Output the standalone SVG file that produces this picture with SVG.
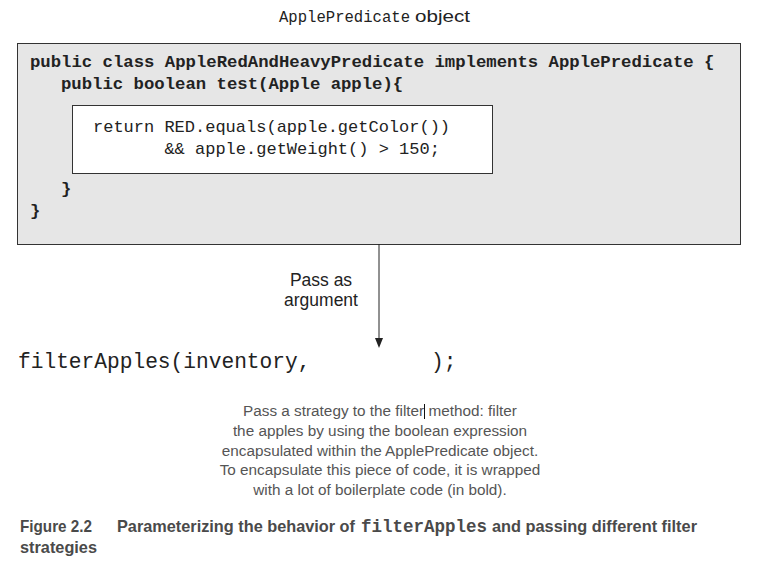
<svg xmlns="http://www.w3.org/2000/svg" width="776" height="561" viewBox="0 0 776 561">
<defs>
<style>
.mono{font-family:"Liberation Mono","Courier New",monospace;fill:#222;white-space:pre}
.bold{font-weight:bold}
.sans{font-family:"Liberation Sans",Arial,sans-serif}
.desc{font-family:"Liberation Sans",Arial,sans-serif;font-size:15.3px;fill:#555;text-anchor:middle}
.cap{font-family:"Liberation Sans",Arial,sans-serif;font-size:16.5px;font-weight:bold;fill:#4a4a4a}
</style>
</defs>
<rect width="776" height="561" fill="#fff"/>
<g id="title">
<text x="279" y="22" class="mono" style="font-size:15.6px">ApplePredicate</text>
<text x="415" y="22" class="sans" style="font-size:17px;fill:#222" textLength="55" lengthAdjust="spacingAndGlyphs">object</text>
</g>
<g id="predicate-object">
<rect x="17.5" y="43.5" width="723" height="201" fill="#e6e6e6" stroke="#333" stroke-width="1"/>
<text x="30" y="67" class="mono bold" style="font-size:17.3px">public class AppleRedAndHeavyPredicate implements ApplePredicate {</text>
<text x="61" y="89" class="mono bold" style="font-size:17.3px">public boolean test(Apple apple){</text>
<text x="61" y="194" class="mono bold" style="font-size:17.3px">}</text>
<text x="30" y="216" class="mono bold" style="font-size:17.3px">}</text>
</g>
<g id="test-body">
<rect x="72.5" y="105.5" width="420" height="68" fill="#fff" stroke="#333" stroke-width="1"/>
<text x="93" y="132" class="mono" style="font-size:17px">return RED.equals(apple.getColor())</text>
<text x="93" y="154" class="mono" style="font-size:17px">       &amp;&amp; apple.getWeight() &gt; 150;</text>
</g>
<g id="connectors">
<line x1="379" y1="244" x2="379" y2="339" stroke="#222" stroke-width="1"/>
<path d="M375,338 L383,338 L379,348 Z" fill="#222"/>
</g>
<g id="edge-label">
<text x="321" y="286" class="sans" style="font-size:17.5px;fill:#222;text-anchor:middle">Pass as</text>
<text x="321" y="306" class="sans" style="font-size:17.5px;fill:#222;text-anchor:middle">argument</text>
</g>
<g id="call">
<text x="18" y="368" class="mono" style="font-size:21.2px">filterApples(inventory,<tspan x="431">);</tspan></text>
</g>
<g id="description">
<text x="380" y="416" class="desc">Pass a strategy to the filter method: filter</text>
<line x1="424.5" y1="404" x2="424.5" y2="419" stroke="#111" stroke-width="1"/>
<text x="380" y="436" class="desc">the apples by using the boolean expression</text>
<text x="380" y="456" class="desc">encapsulated within the ApplePredicate object.</text>
<text x="380" y="475" class="desc">To encapsulate this piece of code, it is wrapped</text>
<text x="380" y="495" class="desc">with a lot of boilerplate code (in bold).</text>
</g>
<g id="caption">
<text x="20" y="532" class="cap" textLength="72" lengthAdjust="spacingAndGlyphs">Figure 2.2</text>
<text x="117" y="532" class="cap" textLength="238" lengthAdjust="spacingAndGlyphs">Parameterizing the behavior of</text>
<text x="361" y="532" class="mono" style="font-size:17.5px;font-weight:bold;fill:#4a4a4a" textLength="126" lengthAdjust="spacingAndGlyphs">filterApples</text>
<text x="492" y="532" class="cap" textLength="205" lengthAdjust="spacingAndGlyphs">and passing different filter</text>
<text x="20" y="553" class="cap" textLength="77" lengthAdjust="spacingAndGlyphs">strategies</text>
</g>
</svg>
